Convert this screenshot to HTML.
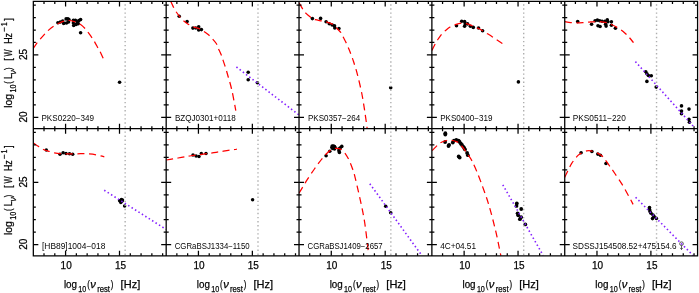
<!DOCTYPE html>
<html><head><meta charset="utf-8"><title>SED panels</title>
<style>html,body{margin:0;padding:0;background:#fff}svg{display:block}</style></head>
<body>
<svg width="699" height="293" viewBox="0 0 699 293">
<rect width="699" height="293" fill="#fff"/>
<defs>
<clipPath id="c00"><rect x="33.33" y="1.45" width="132.85" height="127.2"/></clipPath>
<clipPath id="c10"><rect x="166.18" y="1.45" width="132.85" height="127.2"/></clipPath>
<clipPath id="c20"><rect x="299.03" y="1.45" width="132.85" height="127.2"/></clipPath>
<clipPath id="c30"><rect x="431.88" y="1.45" width="132.85" height="127.2"/></clipPath>
<clipPath id="c40"><rect x="564.73" y="1.45" width="132.85" height="127.2"/></clipPath>
<clipPath id="c01"><rect x="33.33" y="128.65" width="132.85" height="127.2"/></clipPath>
<clipPath id="c11"><rect x="166.18" y="128.65" width="132.85" height="127.2"/></clipPath>
<clipPath id="c21"><rect x="299.03" y="128.65" width="132.85" height="127.2"/></clipPath>
<clipPath id="c31"><rect x="431.88" y="128.65" width="132.85" height="127.2"/></clipPath>
<clipPath id="c41"><rect x="564.73" y="128.65" width="132.85" height="127.2"/></clipPath>
</defs>
<g clip-path="url(#c00)">
<g fill="#000">
<circle cx="57.9" cy="22.7" r="1.8"/>
<circle cx="60.3" cy="22" r="1.8"/>
<circle cx="62.7" cy="21" r="1.8"/>
<circle cx="63.7" cy="23.4" r="1.8"/>
<circle cx="66.1" cy="18.9" r="1.8"/>
<circle cx="67.9" cy="18.9" r="1.8"/>
<circle cx="66.5" cy="23" r="1.8"/>
<circle cx="68.9" cy="19.6" r="1.8"/>
<circle cx="68.5" cy="22" r="1.8"/>
<circle cx="73.4" cy="20.3" r="1.8"/>
<circle cx="75.4" cy="20.3" r="1.8"/>
<circle cx="73.4" cy="23" r="1.8"/>
<circle cx="73.7" cy="25.5" r="1.8"/>
<circle cx="76.1" cy="24.4" r="1.8"/>
<circle cx="77.5" cy="22.4" r="1.8"/>
<circle cx="78.8" cy="20.6" r="1.8"/>
<circle cx="80.6" cy="19.6" r="1.8"/>
<circle cx="78.2" cy="23.7" r="1.8"/>
<circle cx="80.6" cy="32.8" r="1.8"/>
<circle cx="119.6" cy="82.3" r="1.8"/>
</g>
<path d="M125.15 1.45 V128.65" stroke="#aeaeae" stroke-width="1.4" stroke-dasharray="1.4 2.67" stroke-dashoffset="-2.8" fill="none"/>
<path d="M33.3 48.5 C33.92 47.57 35.8 44.52 37 42.9 C38.2 41.28 39.15 40.35 40.5 38.8 C41.85 37.25 43.75 35.05 45.1 33.6 C46.45 32.15 47.15 31.37 48.6 30.1 C50.05 28.83 52.25 27.07 53.8 26 C55.35 24.93 56.15 24.53 57.9 23.7 C59.65 22.87 62.37 21.53 64.3 21 C66.23 20.47 67.67 20.37 69.5 20.5 C71.33 20.63 73.45 21.12 75.3 21.8 C77.15 22.48 78.92 23.42 80.6 24.6 C82.28 25.78 84.18 27.65 85.4 28.9 C86.62 30.15 86.77 30.58 87.9 32.1 C89.03 33.62 91.12 36.43 92.2 38 C93.28 39.57 93.4 39.78 94.4 41.5 C95.4 43.22 97.2 46.52 98.2 48.3 C99.2 50.08 99.55 50.5 100.4 52.2 C101.25 53.9 102.82 57.45 103.3 58.5" stroke="#ff0000" stroke-width="1.25" stroke-dasharray="7 4.65" stroke-dashoffset="0" fill="none"/>
</g>
<g clip-path="url(#c10)">
<g fill="#000">
<circle cx="179.2" cy="16.3" r="1.8"/>
<circle cx="187.1" cy="21.5" r="1.8"/>
<circle cx="192.9" cy="28.1" r="1.8"/>
<circle cx="195.8" cy="28" r="1.8"/>
<circle cx="198.7" cy="26.9" r="1.8"/>
<circle cx="198.7" cy="30" r="1.8"/>
<circle cx="201.4" cy="29.6" r="1.8"/>
<circle cx="248.2" cy="72.2" r="1.8"/>
<circle cx="248.2" cy="79.7" r="1.8"/>
<circle cx="257.4" cy="82.8" r="1.8"/>
</g>
<path d="M258 1.45 V128.65" stroke="#aeaeae" stroke-width="1.4" stroke-dasharray="1.4 2.67" stroke-dashoffset="-2.8" fill="none"/>
<path d="M236.4 67 L298.9 114.9" stroke="#8420ff" stroke-width="1.6" stroke-dasharray="1.5 2.55" fill="none"/>
<path d="M170.8 1.4 C171.18 2.23 172.23 4.7 173.1 6.4 C173.97 8.1 174.93 9.95 176 11.6 C177.07 13.25 178.33 14.85 179.5 16.3 C180.67 17.75 181.55 18.98 183 20.3 C184.45 21.62 186.45 23.1 188.2 24.2 C189.95 25.3 191.57 26.1 193.5 26.9 C195.43 27.7 198.07 28.25 199.8 29 C201.53 29.75 202.45 30.43 203.9 31.4 C205.35 32.37 207.15 33.65 208.5 34.8 C209.85 35.95 210.7 36.85 212 38.3 C213.3 39.75 215.28 41.9 216.3 43.5 C217.32 45.1 217.28 46.02 218.1 47.9 C218.92 49.78 220.38 52.77 221.2 54.8 C222.02 56.83 222.22 57.77 223 60.1 C223.78 62.43 225 65.9 225.9 68.8 C226.8 71.7 227.6 74.72 228.4 77.5 C229.2 80.28 229.95 82.55 230.7 85.5 C231.45 88.45 232.05 91.02 232.9 95.2 C233.75 99.38 235.32 108.03 235.8 110.6" stroke="#ff0000" stroke-width="1.25" stroke-dasharray="7 4.65" stroke-dashoffset="0" fill="none"/>
</g>
<g clip-path="url(#c20)">
<g fill="#000">
<circle cx="312.4" cy="18.6" r="1.8"/>
<circle cx="320.6" cy="18.4" r="1.8"/>
<circle cx="326.1" cy="21.8" r="1.8"/>
<circle cx="329.3" cy="23.8" r="1.8"/>
<circle cx="332.2" cy="25" r="1.8"/>
<circle cx="334.5" cy="25.8" r="1.8"/>
<circle cx="334.8" cy="27.9" r="1.8"/>
<circle cx="338.9" cy="28.5" r="1.8"/>
<circle cx="390.7" cy="87.7" r="1.8"/>
</g>
<path d="M390.85 1.45 V128.65" stroke="#aeaeae" stroke-width="1.4" stroke-dasharray="1.4 2.67" stroke-dashoffset="-2.8" fill="none"/>
<path d="M299.2 3 C299.82 4.05 301.77 7.57 302.9 9.3 C304.03 11.03 304.52 11.95 306 13.4 C307.48 14.85 310.25 16.95 311.8 18 C313.35 19.05 313.65 19.22 315.3 19.7 C316.95 20.18 319.95 20.55 321.7 20.9 C323.45 21.25 323.87 21.18 325.8 21.8 C327.73 22.42 331.38 23.43 333.3 24.6 C335.22 25.77 336.03 27.45 337.3 28.8 C338.57 30.15 339.85 31.2 340.9 32.7 C341.95 34.2 342.6 35.87 343.6 37.8 C344.6 39.73 345.98 42.33 346.9 44.3 C347.82 46.27 348.42 47.9 349.1 49.6 C349.78 51.3 350.23 52.43 351 54.5 C351.77 56.57 352.62 58.62 353.7 62 C354.78 65.38 356.15 69.55 357.5 74.8 C358.85 80.05 360.6 87.48 361.8 93.5 C363 99.52 363.8 105.03 364.7 110.9 C365.6 116.77 366.78 125.73 367.2 128.7" stroke="#ff0000" stroke-width="1.25" stroke-dasharray="7 4.66" stroke-dashoffset="0" fill="none"/>
</g>
<g clip-path="url(#c30)">
<g fill="#000">
<circle cx="456.5" cy="25.7" r="1.8"/>
<circle cx="461.7" cy="21.3" r="1.8"/>
<circle cx="464.6" cy="21.6" r="1.8"/>
<circle cx="465.2" cy="23.9" r="1.8"/>
<circle cx="464.6" cy="26.3" r="1.8"/>
<circle cx="467.5" cy="23.9" r="1.8"/>
<circle cx="470.4" cy="26.3" r="1.8"/>
<circle cx="473.3" cy="27.4" r="1.8"/>
<circle cx="478.5" cy="28" r="1.8"/>
<circle cx="482.6" cy="30.7" r="1.8"/>
<circle cx="518.4" cy="81.9" r="1.8"/>
</g>
<path d="M523.7 1.45 V128.65" stroke="#aeaeae" stroke-width="1.4" stroke-dasharray="1.4 2.67" stroke-dashoffset="-2.8" fill="none"/>
<path d="M432 50.4 C432.4 49.58 433.62 47.02 434.4 45.5 C435.18 43.98 436.02 42.47 436.7 41.3 C437.38 40.13 437.62 39.75 438.5 38.5 C439.38 37.25 440.77 35.18 442 33.8 C443.23 32.42 444.55 31.33 445.9 30.2 C447.25 29.07 448.53 27.92 450.1 27 C451.67 26.08 453.37 25.35 455.3 24.7 C457.23 24.05 459.87 23.27 461.7 23.1 C463.53 22.93 464.47 23.22 466.3 23.7 C468.13 24.18 470.57 25.15 472.7 26 C474.83 26.85 477.45 28.02 479.1 28.8 C480.75 29.58 481.25 29.9 482.6 30.7 C483.95 31.5 485.55 32.55 487.2 33.6 C488.85 34.65 490.85 35.92 492.5 37 C494.15 38.08 495.45 39.02 497.1 40.1 C498.75 41.18 501.52 42.93 502.4 43.5" stroke="#ff0000" stroke-width="1.25" stroke-dasharray="7 4.65" stroke-dashoffset="0" fill="none"/>
</g>
<g clip-path="url(#c40)">
<g fill="#000">
<circle cx="577.7" cy="21.6" r="1.8"/>
<circle cx="591.6" cy="24.2" r="1.8"/>
<circle cx="595.1" cy="20.7" r="1.8"/>
<circle cx="597.4" cy="20.1" r="1.8"/>
<circle cx="599.7" cy="20.7" r="1.8"/>
<circle cx="598" cy="25.7" r="1.8"/>
<circle cx="600.1" cy="26.5" r="1.8"/>
<circle cx="602.1" cy="21.3" r="1.8"/>
<circle cx="605" cy="21.3" r="1.8"/>
<circle cx="607.3" cy="19.9" r="1.8"/>
<circle cx="607.9" cy="21.8" r="1.8"/>
<circle cx="605.6" cy="24.2" r="1.8"/>
<circle cx="606.1" cy="26.1" r="1.8"/>
<circle cx="611.4" cy="21.8" r="1.8"/>
<circle cx="611.4" cy="25.3" r="1.8"/>
<circle cx="615.4" cy="28.2" r="1.8"/>
<circle cx="645.8" cy="71.8" r="1.8"/>
<circle cx="646.9" cy="73.8" r="1.8"/>
<circle cx="648.4" cy="75.5" r="1.8"/>
<circle cx="651.3" cy="75.8" r="1.8"/>
<circle cx="646.9" cy="81.4" r="1.8"/>
<circle cx="656.2" cy="87.1" r="1.8"/>
<circle cx="681.5" cy="105.9" r="1.8"/>
<circle cx="681.5" cy="111" r="1.8"/>
<circle cx="681.5" cy="113.8" r="1.8"/>
<circle cx="689" cy="109.1" r="1.8"/>
<circle cx="689" cy="119.4" r="1.8"/>
<circle cx="689.4" cy="122.2" r="1.8"/>
</g>
<path d="M656.55 1.45 V128.65" stroke="#aeaeae" stroke-width="1.4" stroke-dasharray="1.4 2.67" stroke-dashoffset="-2.8" fill="none"/>
<path d="M635.4 61.6 L694.8 127.9" stroke="#8420ff" stroke-width="1.6" stroke-dasharray="1.5 2.55" fill="none"/>
<path d="M564.9 21.6 C565.87 21.77 568.87 22.4 570.7 22.6 C572.53 22.8 573.87 22.8 575.9 22.8 C577.93 22.8 580.87 22.7 582.9 22.6 C584.93 22.5 585.97 22.38 588.1 22.2 C590.23 22.02 593.77 21.6 595.7 21.5 C597.63 21.4 597.87 21.4 599.7 21.6 C601.53 21.8 604.85 22.27 606.7 22.7 C608.55 23.13 609.15 23.47 610.8 24.2 C612.45 24.93 614.87 26.13 616.6 27.1 C618.33 28.07 619.65 28.85 621.2 30 C622.75 31.15 624.63 32.85 625.9 34 C627.17 35.15 627.53 35.45 628.8 36.9 C630.07 38.35 632.72 41.73 633.5 42.7" stroke="#ff0000" stroke-width="1.25" stroke-dasharray="7 4.65" stroke-dashoffset="0" fill="none"/>
</g>
<g clip-path="url(#c01)">
<g fill="#000">
<circle cx="46.3" cy="150" r="1.75"/>
<circle cx="60" cy="154.2" r="1.75"/>
<circle cx="63.1" cy="152.7" r="1.75"/>
<circle cx="66" cy="153.6" r="1.75"/>
<circle cx="69.5" cy="153.8" r="1.75"/>
<circle cx="72.7" cy="154.2" r="1.75"/>
<circle cx="119.6" cy="200.7" r="1.75"/>
<circle cx="121.4" cy="199.5" r="1.75"/>
<circle cx="122.5" cy="200.1" r="1.75"/>
<circle cx="120.8" cy="202.4" r="1.75"/>
<circle cx="121.9" cy="201.3" r="1.75"/>
<circle cx="124.6" cy="205.9" r="1.75"/>
</g>
<path d="M125.15 128.65 V255.85" stroke="#aeaeae" stroke-width="1.4" stroke-dasharray="1.4 2.67" stroke-dashoffset="-2.8" fill="none"/>
<path d="M104.2 190.2 L166.1 229.4" stroke="#8420ff" stroke-width="1.6" stroke-dasharray="1.5 2.55" fill="none"/>
<path d="M33.3 142.9 C34.2 143.52 37.02 145.5 38.7 146.6 C40.38 147.7 41.57 148.68 43.4 149.5 C45.23 150.32 47.87 150.95 49.7 151.5 C51.53 152.05 52.45 152.45 54.4 152.8 C56.35 153.15 58.97 153.42 61.4 153.6 C63.83 153.78 66.3 153.87 69 153.9 C71.7 153.93 75.1 153.83 77.6 153.8 C80.1 153.77 82.07 153.68 84 153.7 C85.93 153.72 87.17 153.72 89.2 153.9 C91.23 154.08 94.27 154.47 96.2 154.8 C98.13 155.13 99.45 155.57 100.8 155.9 C102.15 156.23 103.72 156.65 104.3 156.8" stroke="#ff0000" stroke-width="1.25" stroke-dasharray="7 4.65" stroke-dashoffset="0" fill="none"/>
</g>
<g clip-path="url(#c11)">
<g fill="#000">
<circle cx="193" cy="155" r="1.75"/>
<circle cx="196.1" cy="155.9" r="1.75"/>
<circle cx="199" cy="156.5" r="1.75"/>
<circle cx="201.3" cy="153.6" r="1.75"/>
<circle cx="206" cy="153.6" r="1.75"/>
<circle cx="252.6" cy="199.7" r="1.75"/>
</g>
<path d="M258 128.65 V255.85" stroke="#aeaeae" stroke-width="1.4" stroke-dasharray="1.4 2.67" stroke-dashoffset="-2.8" fill="none"/>
<path d="M166.3 160 C167.4 159.82 170.93 159.23 172.9 158.9 C174.87 158.57 176.07 158.35 178.1 158 C180.13 157.65 183.17 157.13 185.1 156.8 C187.03 156.47 187.55 156.33 189.7 156 C191.85 155.67 195.1 155.2 198 154.8 C200.9 154.4 204.7 153.92 207.1 153.6 C209.5 153.28 210.47 153.18 212.4 152.9 C214.33 152.62 216.87 152.18 218.7 151.9 C220.53 151.62 221.45 151.5 223.4 151.2 C225.35 150.9 228.57 150.38 230.4 150.1 C232.23 149.82 233.3 149.65 234.4 149.5 C235.5 149.35 236.57 149.25 237 149.2" stroke="#ff0000" stroke-width="1.25" stroke-dasharray="6.85 4.55" stroke-dashoffset="0" fill="none"/>
</g>
<g clip-path="url(#c21)">
<g fill="#000">
<circle cx="326.1" cy="155.7" r="1.8"/>
<circle cx="329.8" cy="151.3" r="1.8"/>
<circle cx="332.2" cy="146" r="1.8"/>
<circle cx="334.5" cy="146.6" r="1.8"/>
<circle cx="332.7" cy="148.4" r="1.8"/>
<circle cx="334.5" cy="148.9" r="1.8"/>
<circle cx="339.1" cy="148.9" r="1.8"/>
<circle cx="339.4" cy="152.4" r="1.8"/>
<circle cx="341.8" cy="146.4" r="1.8"/>
<circle cx="331.9" cy="147.5" r="1.8"/>
<circle cx="335.1" cy="147.8" r="1.8"/>
<circle cx="338.9" cy="150.7" r="1.8"/>
<circle cx="340.3" cy="147.8" r="1.8"/>
<circle cx="333.5" cy="146" r="1.8"/>
<circle cx="385.7" cy="206.3" r="1.8"/>
<circle cx="390.7" cy="212.7" r="1.8"/>
</g>
<path d="M390.85 128.65 V255.85" stroke="#aeaeae" stroke-width="1.4" stroke-dasharray="1.4 2.67" stroke-dashoffset="-2.8" fill="none"/>
<path d="M369.8 183.7 L421.8 255.5" stroke="#8420ff" stroke-width="1.6" stroke-dasharray="1.5 2.55" fill="none"/>
<path d="M299 193.2 C299.68 192.07 301.92 188.37 303.1 186.4 C304.28 184.43 304.93 183.25 306.1 181.4 C307.27 179.55 308.72 177.37 310.1 175.3 C311.48 173.23 312.95 171.07 314.4 169 C315.85 166.93 317.38 164.8 318.8 162.9 C320.22 161 321.63 159.12 322.9 157.6 C324.17 156.08 325.15 155 326.4 153.8 C327.65 152.6 328.85 151.3 330.4 150.4 C331.95 149.5 333.85 148.55 335.7 148.4 C337.55 148.25 339.97 148.73 341.5 149.5 C343.03 150.27 343.75 151.45 344.9 153 C346.05 154.55 347.47 157.05 348.4 158.8 C349.33 160.55 349.82 161.85 350.5 163.5 C351.18 165.15 351.85 166.85 352.5 168.7 C353.15 170.55 353.12 169.45 354.4 174.6 C355.68 179.75 358.5 191.7 360.2 199.6 C361.9 207.5 363.3 213.78 364.6 222 C365.9 230.22 367.39 244.07 368 248.9 C368.61 253.73 368.21 250.65 368.25 251" stroke="#ff0000" stroke-width="1.25" stroke-dasharray="7 4.65" stroke-dashoffset="0" fill="none"/>
</g>
<g clip-path="url(#c31)">
<g fill="#000">
<circle cx="445.3" cy="133.2" r="1.9"/>
<circle cx="445.3" cy="134.5" r="1.9"/>
<circle cx="445.1" cy="142" r="1.9"/>
<circle cx="448.5" cy="146" r="1.9"/>
<circle cx="449.1" cy="144.8" r="1.9"/>
<circle cx="452.8" cy="142.5" r="1.9"/>
<circle cx="454" cy="140.6" r="1.9"/>
<circle cx="456.3" cy="139.9" r="1.9"/>
<circle cx="458.6" cy="140.6" r="1.9"/>
<circle cx="459.6" cy="141.9" r="1.9"/>
<circle cx="460.9" cy="143.7" r="1.9"/>
<circle cx="462" cy="145" r="1.9"/>
<circle cx="463.2" cy="146.6" r="1.9"/>
<circle cx="464.2" cy="148" r="1.9"/>
<circle cx="465" cy="149.4" r="1.9"/>
<circle cx="467.1" cy="152.9" r="1.9"/>
<circle cx="467.9" cy="155.2" r="1.9"/>
<circle cx="458.7" cy="156.5" r="1.9"/>
<circle cx="459.7" cy="157.6" r="1.9"/>
<circle cx="516.8" cy="203.4" r="1.9"/>
<circle cx="516.5" cy="205.9" r="1.9"/>
<circle cx="521.2" cy="209" r="1.9"/>
<circle cx="517.6" cy="213.3" r="1.9"/>
<circle cx="518.2" cy="215.3" r="1.9"/>
<circle cx="521.1" cy="217.2" r="1.9"/>
<circle cx="519.9" cy="219.2" r="1.9"/>
<circle cx="525.3" cy="224.4" r="1.9"/>
</g>
<path d="M523.7 128.65 V255.85" stroke="#aeaeae" stroke-width="1.4" stroke-dasharray="1.4 2.67" stroke-dashoffset="-2.8" fill="none"/>
<path d="M502.8 184.8 L543.2 255.5" stroke="#8420ff" stroke-width="1.6" stroke-dasharray="1.5 2.55" fill="none"/>
<path d="M432.1 150.6 C432.77 149.93 434.75 147.88 436.1 146.6 C437.45 145.32 438.45 143.92 440.2 142.9 C441.95 141.88 444.77 140.95 446.6 140.5 C448.43 140.05 449.47 139.97 451.2 140.2 C452.93 140.43 455.25 140.93 457 141.9 C458.75 142.87 460.33 144.55 461.7 146 C463.07 147.45 464.13 149.12 465.2 150.6 C466.27 152.08 466.95 153.15 468.1 154.9 C469.25 156.65 470.33 157.53 472.1 161.1 C473.87 164.67 476.03 169.38 478.7 176.3 C481.37 183.22 485.28 193.53 488.1 202.6 C490.92 211.67 493.6 222.45 495.6 230.7 C497.6 238.95 499.22 247.9 500.1 252.1 C500.98 256.3 500.77 255.27 500.9 255.9" stroke="#ff0000" stroke-width="1.25" stroke-dasharray="6.95 4.57" stroke-dashoffset="0" fill="none"/>
</g>
<g clip-path="url(#c41)">
<g fill="#000">
<circle cx="581.1" cy="152.7" r="1.8"/>
<circle cx="591.9" cy="151.5" r="1.8"/>
<circle cx="597.8" cy="154.1" r="1.8"/>
<circle cx="600.4" cy="155.3" r="1.8"/>
<circle cx="606" cy="163.5" r="1.8"/>
<circle cx="649.5" cy="207.5" r="1.8"/>
<circle cx="649.5" cy="209.3" r="1.8"/>
<circle cx="650" cy="211.4" r="1.8"/>
<circle cx="651" cy="213.2" r="1.8"/>
<circle cx="653" cy="215" r="1.8"/>
<circle cx="654.1" cy="216.5" r="1.8"/>
<circle cx="652.5" cy="218.6" r="1.8"/>
<circle cx="656.4" cy="218.4" r="1.8"/>
</g>
<path d="M656.55 128.65 V255.85" stroke="#aeaeae" stroke-width="1.4" stroke-dasharray="1.4 2.67" stroke-dashoffset="-2.8" fill="none"/>
<g stroke="#333" stroke-width="0.8" fill="none"><circle cx="681.5" cy="243.7" r="1.85"/><path d="M681.5 245.55 V249.5 M680.3 247.9 L681.5 249.5 L682.7 247.9"/></g>
<path d="M635.6 197.3 L693.2 255.6" stroke="#8420ff" stroke-width="1.6" stroke-dasharray="1.5 2.55" fill="none"/>
<path d="M564.6 177.5 C565.3 176.08 567.67 171.28 568.8 169 C569.93 166.72 570.25 165.65 571.4 163.8 C572.55 161.95 574.42 159.45 575.7 157.9 C576.98 156.35 577.27 155.67 579.1 154.5 C580.93 153.33 584.28 151.4 586.7 150.9 C589.12 150.4 591.18 150.77 593.6 151.5 C596.02 152.23 599.35 154 601.2 155.3 C603.05 156.6 603.42 157.68 604.7 159.3 C605.98 160.92 607.77 163.45 608.9 165 C610.03 166.55 610.45 167.1 611.5 168.6 C612.55 170.1 613.48 171.45 615.2 174 C616.92 176.55 619.57 180.25 621.8 183.9 C624.03 187.55 626.72 192.48 628.6 195.9 C630.48 199.32 632.35 202.98 633.1 204.4" stroke="#ff0000" stroke-width="1.25" stroke-dasharray="7 4.65" stroke-dashoffset="0" fill="none"/>
</g>
<g stroke="#000" fill="none">
<path d="M33.33 1.45 H697.58 M33.33 128.65 H697.58 M33.33 255.85 H697.58 M33.33 1.45 V255.85 M166.18 1.45 V255.85 M299.03 1.45 V255.85 M431.88 1.45 V255.85 M564.73 1.45 V255.85 M697.58 1.45 V255.85" stroke-width="1.28" stroke-linecap="square"/>
<path d="M44.01 1.45 v2.5 M44.01 128.65 v-2.5 M54.8 1.45 v2.5 M54.8 128.65 v-2.5 M65.58 1.45 v5 M65.58 128.65 v-5 M76.36 1.45 v2.5 M76.36 128.65 v-2.5 M87.15 1.45 v2.5 M87.15 128.65 v-2.5 M97.94 1.45 v2.5 M97.94 128.65 v-2.5 M108.72 1.45 v2.5 M108.72 128.65 v-2.5 M119.5 1.45 v5 M119.5 128.65 v-5 M130.29 1.45 v2.5 M130.29 128.65 v-2.5 M141.07 1.45 v2.5 M141.07 128.65 v-2.5 M151.86 1.45 v2.5 M151.86 128.65 v-2.5 M162.64 1.45 v2.5 M162.64 128.65 v-2.5 M33.33 117.3 h5 M166.18 117.3 h-5 M33.33 104.83 h2.5 M166.18 104.83 h-2.5 M33.33 92.36 h2.5 M166.18 92.36 h-2.5 M33.33 79.89 h2.5 M166.18 79.89 h-2.5 M33.33 67.42 h2.5 M166.18 67.42 h-2.5 M33.33 54.95 h5 M166.18 54.95 h-5 M33.33 42.48 h2.5 M166.18 42.48 h-2.5 M33.33 30.01 h2.5 M166.18 30.01 h-2.5 M33.33 17.54 h2.5 M166.18 17.54 h-2.5 M33.33 5.07 h2.5 M166.18 5.07 h-2.5 M176.86 1.45 v2.5 M176.86 128.65 v-2.5 M187.65 1.45 v2.5 M187.65 128.65 v-2.5 M198.43 1.45 v5 M198.43 128.65 v-5 M209.22 1.45 v2.5 M209.22 128.65 v-2.5 M220 1.45 v2.5 M220 128.65 v-2.5 M230.79 1.45 v2.5 M230.79 128.65 v-2.5 M241.57 1.45 v2.5 M241.57 128.65 v-2.5 M252.36 1.45 v5 M252.36 128.65 v-5 M263.14 1.45 v2.5 M263.14 128.65 v-2.5 M273.93 1.45 v2.5 M273.93 128.65 v-2.5 M284.71 1.45 v2.5 M284.71 128.65 v-2.5 M295.5 1.45 v2.5 M295.5 128.65 v-2.5 M166.18 117.3 h5 M299.03 117.3 h-5 M166.18 104.83 h2.5 M299.03 104.83 h-2.5 M166.18 92.36 h2.5 M299.03 92.36 h-2.5 M166.18 79.89 h2.5 M299.03 79.89 h-2.5 M166.18 67.42 h2.5 M299.03 67.42 h-2.5 M166.18 54.95 h5 M299.03 54.95 h-5 M166.18 42.48 h2.5 M299.03 42.48 h-2.5 M166.18 30.01 h2.5 M299.03 30.01 h-2.5 M166.18 17.54 h2.5 M299.03 17.54 h-2.5 M166.18 5.07 h2.5 M299.03 5.07 h-2.5 M309.71 1.45 v2.5 M309.71 128.65 v-2.5 M320.49 1.45 v2.5 M320.49 128.65 v-2.5 M331.28 1.45 v5 M331.28 128.65 v-5 M342.06 1.45 v2.5 M342.06 128.65 v-2.5 M352.85 1.45 v2.5 M352.85 128.65 v-2.5 M363.63 1.45 v2.5 M363.63 128.65 v-2.5 M374.42 1.45 v2.5 M374.42 128.65 v-2.5 M385.2 1.45 v5 M385.2 128.65 v-5 M395.99 1.45 v2.5 M395.99 128.65 v-2.5 M406.77 1.45 v2.5 M406.77 128.65 v-2.5 M417.56 1.45 v2.5 M417.56 128.65 v-2.5 M428.34 1.45 v2.5 M428.34 128.65 v-2.5 M299.03 117.3 h5 M431.88 117.3 h-5 M299.03 104.83 h2.5 M431.88 104.83 h-2.5 M299.03 92.36 h2.5 M431.88 92.36 h-2.5 M299.03 79.89 h2.5 M431.88 79.89 h-2.5 M299.03 67.42 h2.5 M431.88 67.42 h-2.5 M299.03 54.95 h5 M431.88 54.95 h-5 M299.03 42.48 h2.5 M431.88 42.48 h-2.5 M299.03 30.01 h2.5 M431.88 30.01 h-2.5 M299.03 17.54 h2.5 M431.88 17.54 h-2.5 M299.03 5.07 h2.5 M431.88 5.07 h-2.5 M442.56 1.45 v2.5 M442.56 128.65 v-2.5 M453.34 1.45 v2.5 M453.34 128.65 v-2.5 M464.13 1.45 v5 M464.13 128.65 v-5 M474.91 1.45 v2.5 M474.91 128.65 v-2.5 M485.7 1.45 v2.5 M485.7 128.65 v-2.5 M496.48 1.45 v2.5 M496.48 128.65 v-2.5 M507.27 1.45 v2.5 M507.27 128.65 v-2.5 M518.05 1.45 v5 M518.05 128.65 v-5 M528.84 1.45 v2.5 M528.84 128.65 v-2.5 M539.62 1.45 v2.5 M539.62 128.65 v-2.5 M550.41 1.45 v2.5 M550.41 128.65 v-2.5 M561.19 1.45 v2.5 M561.19 128.65 v-2.5 M431.88 117.3 h5 M564.73 117.3 h-5 M431.88 104.83 h2.5 M564.73 104.83 h-2.5 M431.88 92.36 h2.5 M564.73 92.36 h-2.5 M431.88 79.89 h2.5 M564.73 79.89 h-2.5 M431.88 67.42 h2.5 M564.73 67.42 h-2.5 M431.88 54.95 h5 M564.73 54.95 h-5 M431.88 42.48 h2.5 M564.73 42.48 h-2.5 M431.88 30.01 h2.5 M564.73 30.01 h-2.5 M431.88 17.54 h2.5 M564.73 17.54 h-2.5 M431.88 5.07 h2.5 M564.73 5.07 h-2.5 M575.41 1.45 v2.5 M575.41 128.65 v-2.5 M586.2 1.45 v2.5 M586.2 128.65 v-2.5 M596.98 1.45 v5 M596.98 128.65 v-5 M607.76 1.45 v2.5 M607.76 128.65 v-2.5 M618.55 1.45 v2.5 M618.55 128.65 v-2.5 M629.34 1.45 v2.5 M629.34 128.65 v-2.5 M640.12 1.45 v2.5 M640.12 128.65 v-2.5 M650.9 1.45 v5 M650.9 128.65 v-5 M661.69 1.45 v2.5 M661.69 128.65 v-2.5 M672.48 1.45 v2.5 M672.48 128.65 v-2.5 M683.26 1.45 v2.5 M683.26 128.65 v-2.5 M694.05 1.45 v2.5 M694.05 128.65 v-2.5 M564.73 117.3 h5 M697.58 117.3 h-5 M564.73 104.83 h2.5 M697.58 104.83 h-2.5 M564.73 92.36 h2.5 M697.58 92.36 h-2.5 M564.73 79.89 h2.5 M697.58 79.89 h-2.5 M564.73 67.42 h2.5 M697.58 67.42 h-2.5 M564.73 54.95 h5 M697.58 54.95 h-5 M564.73 42.48 h2.5 M697.58 42.48 h-2.5 M564.73 30.01 h2.5 M697.58 30.01 h-2.5 M564.73 17.54 h2.5 M697.58 17.54 h-2.5 M564.73 5.07 h2.5 M697.58 5.07 h-2.5 M44.01 128.65 v2.5 M44.01 255.85 v-2.5 M54.8 128.65 v2.5 M54.8 255.85 v-2.5 M65.58 128.65 v5 M65.58 255.85 v-5 M76.36 128.65 v2.5 M76.36 255.85 v-2.5 M87.15 128.65 v2.5 M87.15 255.85 v-2.5 M97.94 128.65 v2.5 M97.94 255.85 v-2.5 M108.72 128.65 v2.5 M108.72 255.85 v-2.5 M119.5 128.65 v5 M119.5 255.85 v-5 M130.29 128.65 v2.5 M130.29 255.85 v-2.5 M141.07 128.65 v2.5 M141.07 255.85 v-2.5 M151.86 128.65 v2.5 M151.86 255.85 v-2.5 M162.64 128.65 v2.5 M162.64 255.85 v-2.5 M33.33 244.65 h5 M166.18 244.65 h-5 M33.33 232.18 h2.5 M166.18 232.18 h-2.5 M33.33 219.71 h2.5 M166.18 219.71 h-2.5 M33.33 207.24 h2.5 M166.18 207.24 h-2.5 M33.33 194.77 h2.5 M166.18 194.77 h-2.5 M33.33 182.3 h5 M166.18 182.3 h-5 M33.33 169.83 h2.5 M166.18 169.83 h-2.5 M33.33 157.36 h2.5 M166.18 157.36 h-2.5 M33.33 144.89 h2.5 M166.18 144.89 h-2.5 M33.33 132.42 h2.5 M166.18 132.42 h-2.5 M176.86 128.65 v2.5 M176.86 255.85 v-2.5 M187.65 128.65 v2.5 M187.65 255.85 v-2.5 M198.43 128.65 v5 M198.43 255.85 v-5 M209.22 128.65 v2.5 M209.22 255.85 v-2.5 M220 128.65 v2.5 M220 255.85 v-2.5 M230.79 128.65 v2.5 M230.79 255.85 v-2.5 M241.57 128.65 v2.5 M241.57 255.85 v-2.5 M252.36 128.65 v5 M252.36 255.85 v-5 M263.14 128.65 v2.5 M263.14 255.85 v-2.5 M273.93 128.65 v2.5 M273.93 255.85 v-2.5 M284.71 128.65 v2.5 M284.71 255.85 v-2.5 M295.5 128.65 v2.5 M295.5 255.85 v-2.5 M166.18 244.65 h5 M299.03 244.65 h-5 M166.18 232.18 h2.5 M299.03 232.18 h-2.5 M166.18 219.71 h2.5 M299.03 219.71 h-2.5 M166.18 207.24 h2.5 M299.03 207.24 h-2.5 M166.18 194.77 h2.5 M299.03 194.77 h-2.5 M166.18 182.3 h5 M299.03 182.3 h-5 M166.18 169.83 h2.5 M299.03 169.83 h-2.5 M166.18 157.36 h2.5 M299.03 157.36 h-2.5 M166.18 144.89 h2.5 M299.03 144.89 h-2.5 M166.18 132.42 h2.5 M299.03 132.42 h-2.5 M309.71 128.65 v2.5 M309.71 255.85 v-2.5 M320.49 128.65 v2.5 M320.49 255.85 v-2.5 M331.28 128.65 v5 M331.28 255.85 v-5 M342.06 128.65 v2.5 M342.06 255.85 v-2.5 M352.85 128.65 v2.5 M352.85 255.85 v-2.5 M363.63 128.65 v2.5 M363.63 255.85 v-2.5 M374.42 128.65 v2.5 M374.42 255.85 v-2.5 M385.2 128.65 v5 M385.2 255.85 v-5 M395.99 128.65 v2.5 M395.99 255.85 v-2.5 M406.77 128.65 v2.5 M406.77 255.85 v-2.5 M417.56 128.65 v2.5 M417.56 255.85 v-2.5 M428.34 128.65 v2.5 M428.34 255.85 v-2.5 M299.03 244.65 h5 M431.88 244.65 h-5 M299.03 232.18 h2.5 M431.88 232.18 h-2.5 M299.03 219.71 h2.5 M431.88 219.71 h-2.5 M299.03 207.24 h2.5 M431.88 207.24 h-2.5 M299.03 194.77 h2.5 M431.88 194.77 h-2.5 M299.03 182.3 h5 M431.88 182.3 h-5 M299.03 169.83 h2.5 M431.88 169.83 h-2.5 M299.03 157.36 h2.5 M431.88 157.36 h-2.5 M299.03 144.89 h2.5 M431.88 144.89 h-2.5 M299.03 132.42 h2.5 M431.88 132.42 h-2.5 M442.56 128.65 v2.5 M442.56 255.85 v-2.5 M453.34 128.65 v2.5 M453.34 255.85 v-2.5 M464.13 128.65 v5 M464.13 255.85 v-5 M474.91 128.65 v2.5 M474.91 255.85 v-2.5 M485.7 128.65 v2.5 M485.7 255.85 v-2.5 M496.48 128.65 v2.5 M496.48 255.85 v-2.5 M507.27 128.65 v2.5 M507.27 255.85 v-2.5 M518.05 128.65 v5 M518.05 255.85 v-5 M528.84 128.65 v2.5 M528.84 255.85 v-2.5 M539.62 128.65 v2.5 M539.62 255.85 v-2.5 M550.41 128.65 v2.5 M550.41 255.85 v-2.5 M561.19 128.65 v2.5 M561.19 255.85 v-2.5 M431.88 244.65 h5 M564.73 244.65 h-5 M431.88 232.18 h2.5 M564.73 232.18 h-2.5 M431.88 219.71 h2.5 M564.73 219.71 h-2.5 M431.88 207.24 h2.5 M564.73 207.24 h-2.5 M431.88 194.77 h2.5 M564.73 194.77 h-2.5 M431.88 182.3 h5 M564.73 182.3 h-5 M431.88 169.83 h2.5 M564.73 169.83 h-2.5 M431.88 157.36 h2.5 M564.73 157.36 h-2.5 M431.88 144.89 h2.5 M564.73 144.89 h-2.5 M431.88 132.42 h2.5 M564.73 132.42 h-2.5 M575.41 128.65 v2.5 M575.41 255.85 v-2.5 M586.2 128.65 v2.5 M586.2 255.85 v-2.5 M596.98 128.65 v5 M596.98 255.85 v-5 M607.76 128.65 v2.5 M607.76 255.85 v-2.5 M618.55 128.65 v2.5 M618.55 255.85 v-2.5 M629.34 128.65 v2.5 M629.34 255.85 v-2.5 M640.12 128.65 v2.5 M640.12 255.85 v-2.5 M650.9 128.65 v5 M650.9 255.85 v-5 M661.69 128.65 v2.5 M661.69 255.85 v-2.5 M672.48 128.65 v2.5 M672.48 255.85 v-2.5 M683.26 128.65 v2.5 M683.26 255.85 v-2.5 M694.05 128.65 v2.5 M694.05 255.85 v-2.5 M564.73 244.65 h5 M697.58 244.65 h-5 M564.73 232.18 h2.5 M697.58 232.18 h-2.5 M564.73 219.71 h2.5 M697.58 219.71 h-2.5 M564.73 207.24 h2.5 M697.58 207.24 h-2.5 M564.73 194.77 h2.5 M697.58 194.77 h-2.5 M564.73 182.3 h5 M697.58 182.3 h-5 M564.73 169.83 h2.5 M697.58 169.83 h-2.5 M564.73 157.36 h2.5 M697.58 157.36 h-2.5 M564.73 144.89 h2.5 M697.58 144.89 h-2.5 M564.73 132.42 h2.5 M697.58 132.42 h-2.5" stroke-width="1.25"/>
</g>
<g font-family="'Liberation Sans', sans-serif" fill="#000" stroke="#000" stroke-width="0.25" opacity="0.99">
<text x="41.43" y="121" font-size="8.5" stroke-width="0" textLength="52.5" lengthAdjust="spacingAndGlyphs">PKS0220−349</text>
<text x="174.88" y="121" font-size="8.5" stroke-width="0" textLength="60.9" lengthAdjust="spacingAndGlyphs">BZQJ0301+0118</text>
<text x="307.93" y="121" font-size="8.5" stroke-width="0" textLength="52.2" lengthAdjust="spacingAndGlyphs">PKS0357−264</text>
<text x="440.13" y="121" font-size="8.5" stroke-width="0" textLength="52.4" lengthAdjust="spacingAndGlyphs">PKS0400−319</text>
<text x="572.73" y="121" font-size="8.5" stroke-width="0" textLength="53.1" lengthAdjust="spacingAndGlyphs">PKS0511−220</text>
<text x="42.03" y="249.2" font-size="8.5" stroke-width="0" textLength="63.3" lengthAdjust="spacingAndGlyphs">[HB89]1004−018</text>
<text x="174.73" y="249.2" font-size="8.5" stroke-width="0" textLength="74.95" lengthAdjust="spacingAndGlyphs">CGRaBSJ1334−1150</text>
<text x="307.58" y="249.2" font-size="8.5" stroke-width="0" textLength="75.1" lengthAdjust="spacingAndGlyphs">CGRaBSJ1409−2657</text>
<text x="440.18" y="249.2" font-size="8.5" stroke-width="0" textLength="35.8" lengthAdjust="spacingAndGlyphs">4C+04.51</text>
<text x="572.53" y="249.2" font-size="8.5" stroke-width="0" textLength="104.1" lengthAdjust="spacingAndGlyphs">SDSSJ154508.52+475154.6</text>
<text x="66.18" y="268.75" font-size="10" text-anchor="middle">10</text>
<text x="120.5" y="268.75" font-size="10" text-anchor="middle">15</text>
<text x="199.03" y="268.75" font-size="10" text-anchor="middle">10</text>
<text x="253.36" y="268.75" font-size="10" text-anchor="middle">15</text>
<text x="331.88" y="268.75" font-size="10" text-anchor="middle">10</text>
<text x="386.2" y="268.75" font-size="10" text-anchor="middle">15</text>
<text x="464.73" y="268.75" font-size="10" text-anchor="middle">10</text>
<text x="519.05" y="268.75" font-size="10" text-anchor="middle">15</text>
<text x="597.58" y="268.75" font-size="10" text-anchor="middle">10</text>
<text x="651.9" y="268.75" font-size="10" text-anchor="middle">15</text>
<text transform="translate(27.2 116.9) rotate(-90)" font-size="10" text-anchor="middle">20</text>
<text transform="translate(27.2 54.55) rotate(-90)" font-size="10" text-anchor="middle">25</text>
<text transform="translate(27.2 244.25) rotate(-90)" font-size="10" text-anchor="middle">20</text>
<text transform="translate(27.2 181.9) rotate(-90)" font-size="10" text-anchor="middle">25</text>
<text x="63.93" y="288.3" font-size="10.2" textLength="13.1" lengthAdjust="spacingAndGlyphs">log</text><text x="78.33" y="292.3" font-size="9" textLength="8" lengthAdjust="spacingAndGlyphs">10</text><text x="87.23" y="288.3" font-size="10.2" textLength="2.6" lengthAdjust="spacingAndGlyphs">(</text><text x="90.33" y="288.3" font-size="10.2" textLength="5.6" lengthAdjust="spacingAndGlyphs" font-style="italic">ν</text><text x="97.13" y="292.3" font-size="8.8" textLength="12.9" lengthAdjust="spacingAndGlyphs">rest</text><text x="110.83" y="288.3" font-size="10.2" textLength="2.6" lengthAdjust="spacingAndGlyphs">)</text><text x="120.63" y="288.3" font-size="10.2" textLength="19.6" lengthAdjust="spacingAndGlyphs">[Hz]</text>
<text x="196.78" y="288.3" font-size="10.2" textLength="13.1" lengthAdjust="spacingAndGlyphs">log</text><text x="211.18" y="292.3" font-size="9" textLength="8" lengthAdjust="spacingAndGlyphs">10</text><text x="220.08" y="288.3" font-size="10.2" textLength="2.6" lengthAdjust="spacingAndGlyphs">(</text><text x="223.18" y="288.3" font-size="10.2" textLength="5.6" lengthAdjust="spacingAndGlyphs" font-style="italic">ν</text><text x="229.98" y="292.3" font-size="8.8" textLength="12.9" lengthAdjust="spacingAndGlyphs">rest</text><text x="243.68" y="288.3" font-size="10.2" textLength="2.6" lengthAdjust="spacingAndGlyphs">)</text><text x="253.48" y="288.3" font-size="10.2" textLength="19.6" lengthAdjust="spacingAndGlyphs">[Hz]</text>
<text x="329.63" y="288.3" font-size="10.2" textLength="13.1" lengthAdjust="spacingAndGlyphs">log</text><text x="344.03" y="292.3" font-size="9" textLength="8" lengthAdjust="spacingAndGlyphs">10</text><text x="352.93" y="288.3" font-size="10.2" textLength="2.6" lengthAdjust="spacingAndGlyphs">(</text><text x="356.03" y="288.3" font-size="10.2" textLength="5.6" lengthAdjust="spacingAndGlyphs" font-style="italic">ν</text><text x="362.83" y="292.3" font-size="8.8" textLength="12.9" lengthAdjust="spacingAndGlyphs">rest</text><text x="376.53" y="288.3" font-size="10.2" textLength="2.6" lengthAdjust="spacingAndGlyphs">)</text><text x="386.33" y="288.3" font-size="10.2" textLength="19.6" lengthAdjust="spacingAndGlyphs">[Hz]</text>
<text x="462.48" y="288.3" font-size="10.2" textLength="13.1" lengthAdjust="spacingAndGlyphs">log</text><text x="476.88" y="292.3" font-size="9" textLength="8" lengthAdjust="spacingAndGlyphs">10</text><text x="485.78" y="288.3" font-size="10.2" textLength="2.6" lengthAdjust="spacingAndGlyphs">(</text><text x="488.88" y="288.3" font-size="10.2" textLength="5.6" lengthAdjust="spacingAndGlyphs" font-style="italic">ν</text><text x="495.68" y="292.3" font-size="8.8" textLength="12.9" lengthAdjust="spacingAndGlyphs">rest</text><text x="509.38" y="288.3" font-size="10.2" textLength="2.6" lengthAdjust="spacingAndGlyphs">)</text><text x="519.18" y="288.3" font-size="10.2" textLength="19.6" lengthAdjust="spacingAndGlyphs">[Hz]</text>
<text x="595.33" y="288.3" font-size="10.2" textLength="13.1" lengthAdjust="spacingAndGlyphs">log</text><text x="609.73" y="292.3" font-size="9" textLength="8" lengthAdjust="spacingAndGlyphs">10</text><text x="618.63" y="288.3" font-size="10.2" textLength="2.6" lengthAdjust="spacingAndGlyphs">(</text><text x="621.73" y="288.3" font-size="10.2" textLength="5.6" lengthAdjust="spacingAndGlyphs" font-style="italic">ν</text><text x="628.53" y="292.3" font-size="8.8" textLength="12.9" lengthAdjust="spacingAndGlyphs">rest</text><text x="642.23" y="288.3" font-size="10.2" textLength="2.6" lengthAdjust="spacingAndGlyphs">)</text><text x="652.03" y="288.3" font-size="10.2" textLength="19.6" lengthAdjust="spacingAndGlyphs">[Hz]</text>
<g transform="translate(11.8 107) rotate(-90)"><text x="-0.8" y="0" font-size="10.2" textLength="13.9" lengthAdjust="spacingAndGlyphs">log</text><text x="14.4" y="4" font-size="9" textLength="8" lengthAdjust="spacingAndGlyphs">10</text><text x="23.3" y="0" font-size="10.2" textLength="2.6" lengthAdjust="spacingAndGlyphs">(</text><text x="27.9" y="0" font-size="10.2" textLength="5" lengthAdjust="spacingAndGlyphs">L</text><text x="32.6" y="4" font-size="8.8" textLength="4.2" lengthAdjust="spacingAndGlyphs" font-style="italic">ν</text><text x="36.9" y="0" font-size="10.2" textLength="2.6" lengthAdjust="spacingAndGlyphs">)</text><text x="46.3" y="0" font-size="10.2" textLength="2.6" lengthAdjust="spacingAndGlyphs">[</text><text x="50.6" y="0" font-size="10.2" textLength="7" lengthAdjust="spacingAndGlyphs">W</text><text x="63.2" y="0" font-size="10.2" textLength="10.8" lengthAdjust="spacingAndGlyphs">Hz</text><text x="74.9" y="-4.6" font-size="8.6" textLength="4.6" lengthAdjust="spacingAndGlyphs">−</text><text x="81" y="-4.6" font-size="8.6" textLength="3.6" lengthAdjust="spacingAndGlyphs">1</text><text x="86.3" y="0" font-size="10.2" textLength="2.6" lengthAdjust="spacingAndGlyphs">]</text></g>
<g transform="translate(11.8 234.2) rotate(-90)"><text x="-0.8" y="0" font-size="10.2" textLength="13.9" lengthAdjust="spacingAndGlyphs">log</text><text x="14.4" y="4" font-size="9" textLength="8" lengthAdjust="spacingAndGlyphs">10</text><text x="23.3" y="0" font-size="10.2" textLength="2.6" lengthAdjust="spacingAndGlyphs">(</text><text x="27.9" y="0" font-size="10.2" textLength="5" lengthAdjust="spacingAndGlyphs">L</text><text x="32.6" y="4" font-size="8.8" textLength="4.2" lengthAdjust="spacingAndGlyphs" font-style="italic">ν</text><text x="36.9" y="0" font-size="10.2" textLength="2.6" lengthAdjust="spacingAndGlyphs">)</text><text x="46.3" y="0" font-size="10.2" textLength="2.6" lengthAdjust="spacingAndGlyphs">[</text><text x="50.6" y="0" font-size="10.2" textLength="7" lengthAdjust="spacingAndGlyphs">W</text><text x="63.2" y="0" font-size="10.2" textLength="10.8" lengthAdjust="spacingAndGlyphs">Hz</text><text x="74.9" y="-4.6" font-size="8.6" textLength="4.6" lengthAdjust="spacingAndGlyphs">−</text><text x="81" y="-4.6" font-size="8.6" textLength="3.6" lengthAdjust="spacingAndGlyphs">1</text><text x="86.3" y="0" font-size="10.2" textLength="2.6" lengthAdjust="spacingAndGlyphs">]</text></g>
</g>
</svg>
</body></html>
